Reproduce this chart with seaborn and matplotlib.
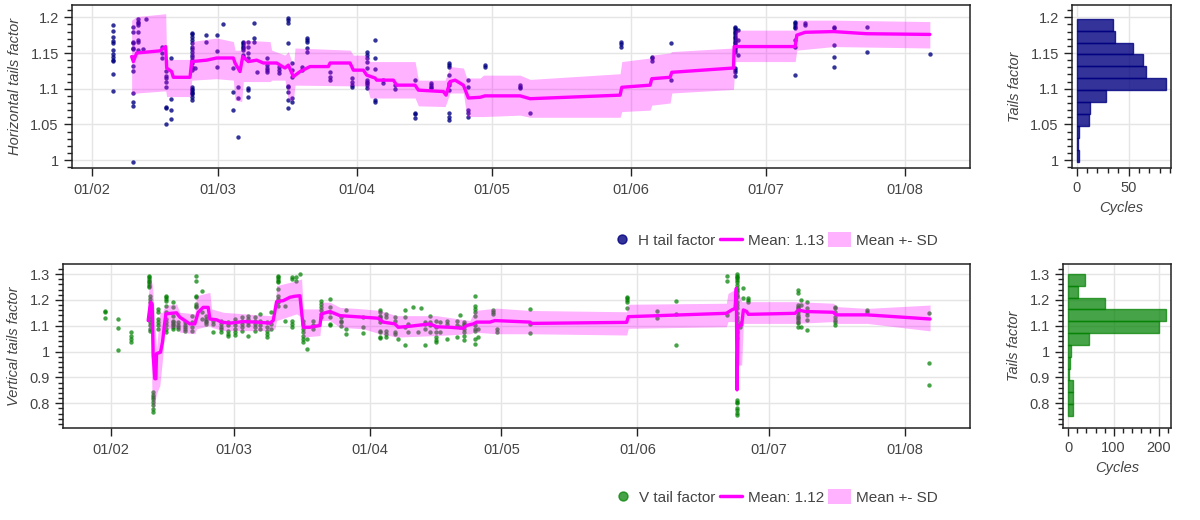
import numpy as np
import pandas as pd
import matplotlib
matplotlib.use("Agg")
import matplotlib.pyplot as plt
import matplotlib.dates as mdates
from matplotlib.ticker import MultipleLocator, FuncFormatter
from matplotlib.lines import Line2D
from matplotlib.patches import Patch
import seaborn as sns

# ---------------- data (days since 2023-02-01) ----------------
BASE = "2023-02-01"

h_cluster_days = [4.75, 9.1, 10.3, 11.43, 11.95, 15.5, 16.5, 17.6, 22.2, 22.94, 25.32, 27.77,
                  29.25, 31.48, 32.6, 33.7, 34.82, 36.0, 36.67, 38.9, 41.6, 43.7, 44.6, 46.7,
                  47.81, 53.0, 57.83, 61.2, 62.95, 64.88, 67.48, 72.0, 75.5, 79.5, 83.8, 87.4,
                  95.4, 97.55, 117.7, 124.6, 128.88, 143.2, 143.95, 156.5, 158.8, 165.2,
                  172.53, 186.56]
h_cluster_vals = [
    [1.189, 1.181, 1.172, 1.167, 1.164, 1.154, 1.148, 1.144, 1.140, 1.139, 1.121, 1.097],
    [1.187, 1.179, 1.166, 1.164, 1.157, 1.155, 1.144, 1.132, 1.125, 1.094, 1.082, 1.076, 0.998],
    [1.197, 1.194, 1.192, 1.189, 1.180, 1.168, 1.165, 1.154],
    [1.156],
    [1.198],
    [1.159, 1.150, 1.143],
    [1.125, 1.118, 1.115, 1.109, 1.102, 1.075, 1.073, 1.051],
    [1.143, 1.085, 1.070, 1.058],
    [1.178, 1.176, 1.172, 1.168, 1.164, 1.159, 1.155, 1.152, 1.147, 1.145, 1.140, 1.136,
     1.131, 1.126, 1.103, 1.100, 1.098, 1.096, 1.094, 1.093, 1.089, 1.084],
    [1.129],
    [1.175, 1.165],
    [1.175, 1.153, 1.131],
    [1.190],
    [1.129, 1.096, 1.070],
    [1.102, 1.087, 1.033],
    [1.166, 1.164, 1.161, 1.159, 1.157, 1.154, 1.147, 1.145],
    [1.166, 1.159, 1.150, 1.143, 1.101, 1.098, 1.089],
    [1.192, 1.171, 1.166],
    [1.124],
    [1.143, 1.133, 1.129, 1.126, 1.124],
    [1.131, 1.126, 1.122],
    [1.199, 1.196, 1.192, 1.164, 1.104, 1.102, 1.096, 1.084, 1.073],
    [1.136, 1.126, 1.117, 1.087, 1.082],
    [1.131, 1.126],
    [1.171, 1.168, 1.166, 1.157, 1.152],
    [1.124, 1.117, 1.112],
    [1.115, 1.110, 1.105, 1.103],
    [1.152, 1.147, 1.143, 1.138, 1.129, 1.112, 1.110, 1.108, 1.105, 1.101],
    [1.168, 1.143, 1.127, 1.084, 1.082],
    [1.112, 1.108],
    [1.105, 1.099],
    [1.112, 1.066, 1.064, 1.059],
    [1.108, 1.105, 1.103, 1.101],
    [1.133, 1.136, 1.131, 1.119, 1.108, 1.105, 1.098, 1.066, 1.061, 1.056],
    [1.112, 1.103, 1.070, 1.066, 1.061],
    [1.133, 1.131],
    [1.105, 1.103, 1.101],
    [1.066],
    [1.165, 1.162, 1.158],
    [1.145, 1.143, 1.139],
    [1.164, 1.112],
    [1.187, 1.185, 1.182, 1.180, 1.178, 1.175, 1.173, 1.171, 1.168, 1.166, 1.164, 1.161,
     1.159, 1.157, 1.154, 1.152, 1.129, 1.126, 1.124, 1.118],
    [1.182, 1.168, 1.147],
    [1.194, 1.192, 1.189, 1.187, 1.185, 1.168, 1.159, 1.119],
    [1.192, 1.189],
    [1.187, 1.185, 1.161, 1.145, 1.131],
    [1.187, 1.152],
    [1.148],
]

h_line_day = [8.83, 9.21, 9.95, 15.14, 16.41, 16.63, 17.74, 18.11, 21.83, 22.20, 25.54, 27.77,
              31.48, 31.85, 32.96, 33.56, 34.82, 36.67, 38.16, 41.13, 41.87, 42.98, 43.73, 44.84,
              46.33, 48.55, 52.64, 53.01, 57.46, 58.20, 60.43, 61.17, 63.03, 63.40, 67.11, 67.85,
              71.94, 72.68, 78.25, 78.84, 79.73, 80.85, 82.70, 83.81, 86.42, 87.53, 95.32, 97.55,
              117.59, 117.97, 124.28, 124.65, 128.73, 129.10, 142.84, 142.99, 156.57, 156.94,
              158.80, 165.11, 172.53, 186.56]
h_line_val = [1.145, 1.138, 1.150, 1.153, 1.159, 1.129, 1.124, 1.116, 1.116, 1.138, 1.140, 1.143,
              1.143, 1.136, 1.124, 1.145, 1.138, 1.140, 1.136, 1.136, 1.133, 1.129, 1.133, 1.117,
              1.124, 1.131, 1.131, 1.136, 1.136, 1.126, 1.126, 1.119, 1.115, 1.112, 1.112, 1.105,
              1.105, 1.098, 1.096, 1.091, 1.110, 1.112, 1.105, 1.087, 1.088, 1.090, 1.090, 1.086,
              1.091, 1.102, 1.105, 1.114, 1.116, 1.123, 1.129, 1.159, 1.159, 1.175, 1.179, 1.180,
              1.177, 1.176]

h_band_day = [8.83, 9.95, 16.41, 16.63, 21.83, 22.20, 27.77, 31.48, 31.85, 33.33, 33.70, 39.64,
              40.01, 42.98, 43.73, 44.84, 45.21, 57.46, 58.20, 61.17, 61.92, 71.94, 72.68, 78.62,
              79.73, 82.70, 83.44, 86.42, 87.16, 95.32, 97.55, 117.59, 117.97, 124.28, 124.65,
              128.73, 129.10, 142.84, 143.21, 156.57, 156.94, 165.11, 186.56]
h_band_lo = [1.091, 1.094, 1.097, 1.089, 1.089, 1.112, 1.114, 1.112, 1.084, 1.082, 1.110, 1.110,
             1.112, 1.112, 1.084, 1.084, 1.105, 1.104, 1.104, 1.104, 1.087, 1.087, 1.076, 1.075,
             1.094, 1.094, 1.061, 1.061, 1.061, 1.063, 1.060, 1.060, 1.068, 1.070, 1.077, 1.080,
             1.094, 1.099, 1.138, 1.138, 1.154, 1.159, 1.157]
h_band_hi = [1.196, 1.201, 1.205, 1.141, 1.141, 1.166, 1.171, 1.166, 1.154, 1.154, 1.168, 1.166,
             1.154, 1.147, 1.152, 1.131, 1.157, 1.154, 1.147, 1.147, 1.138, 1.138, 1.112, 1.112,
             1.131, 1.129, 1.115, 1.115, 1.119, 1.119, 1.113, 1.121, 1.138, 1.143, 1.147, 1.150,
             1.152, 1.157, 1.182, 1.182, 1.196, 1.196, 1.194]

h_hist_edges = [0.998, 1.0147, 1.0313, 1.048, 1.0647, 1.0813, 1.098, 1.1147, 1.1313, 1.148,
                1.1647, 1.1813, 1.198]
h_hist_counts = [2, 1, 2, 12, 13, 28, 86, 67, 64, 54, 37, 35]

v_cluster_days = [-1.37, 1.67, 4.71, 8.6, 9.0, 9.65, 10.8, 12.5, 14.2, 15.3, 16.9, 18.4, 19.5,
                  20.7, 21.8, 23.3, 25.2, 26.7, 28.3, 29.8, 31.3, 32.8, 33.97, 35.5, 36.6, 38.1,
                  39.7, 41.2, 42.3, 43.1, 43.8, 44.6, 46.1, 48.0, 49.9, 52.4, 53.6, 57.5, 61.3,
                  62.8, 64.7, 65.5, 67.0, 67.8, 68.9, 70.1, 70.8, 71.6, 72.7, 74.1, 75.0, 76.5,
                  78.8, 79.6, 80.5, 83.1, 83.7, 87.2, 87.9, 95.5, 117.55, 124.4, 128.8, 140.5,
                  142.6, 142.7, 143.4, 144.15, 145.3, 156.7, 157.3, 158.6, 165.0, 172.3, 186.55]
v_cluster_vals = [
    [1.157, 1.152, 1.129],
    [1.126, 1.093, 1.006],
    [1.075, 1.062, 1.049, 1.039],
    [1.294, 1.287, 1.281, 1.274, 1.268, 1.262, 1.255, 1.249],
    [1.216, 1.204, 1.191, 1.165, 1.152, 1.139, 1.126, 1.114, 1.101, 1.088, 1.081],
    [0.844, 0.831, 0.824, 0.818, 0.805, 0.792, 0.779, 0.767],
    [1.165, 1.152, 1.126, 1.114, 1.101, 1.088],
    [1.216, 1.210, 1.204, 1.197, 1.178, 1.152, 1.126, 1.114, 1.101, 1.088, 1.075],
    [1.191, 1.171, 1.139, 1.120, 1.114, 1.107, 1.101, 1.094, 1.088],
    [1.114, 1.101, 1.094, 1.088],
    [1.114, 1.101, 1.094, 1.088, 1.081],
    [1.137, 1.114, 1.094, 1.081],
    [1.294, 1.274, 1.216, 1.210, 1.184, 1.178, 1.171],
    [1.236, 1.152, 1.126],
    [1.139, 1.126, 1.120, 1.114, 1.107],
    [1.120, 1.107, 1.075],
    [1.120, 1.107, 1.094, 1.088, 1.075],
    [1.114, 1.101, 1.081, 1.069, 1.062],
    [1.126, 1.114, 1.101, 1.088, 1.075, 1.065],
    [1.133, 1.120, 1.107, 1.094, 1.081],
    [1.139, 1.126, 1.114, 1.101, 1.062],
    [1.133, 1.120, 1.107, 1.094, 1.081],
    [1.146, 1.120, 1.101, 1.088],
    [1.114, 1.094, 1.081, 1.069, 1.056],
    [1.152, 1.107, 1.088],
    [1.294, 1.287, 1.281, 1.274, 1.268, 1.242, 1.216, 1.204, 1.191, 1.178],
    [1.178, 1.120],
    [1.287, 1.281, 1.120, 1.107, 1.094],
    [1.287, 1.274],
    [1.300],
    [1.120, 1.107, 1.088, 1.075, 1.062, 1.049, 1.036],
    [1.049, 1.011],
    [1.120, 1.101, 1.088],
    [1.197, 1.184, 1.171, 1.159, 1.146, 1.133],
    [1.204, 1.171, 1.152, 1.133, 1.107, 1.101],
    [1.133, 1.120, 1.114, 1.098],
    [1.159, 1.088, 1.069],
    [1.133, 1.094, 1.072],
    [1.159, 1.152, 1.139, 1.133, 1.126, 1.114, 1.081, 1.075, 1.056, 1.052],
    [1.146, 1.133, 1.081, 1.069, 1.056],
    [1.133, 1.120, 1.075, 1.069],
    [1.049],
    [1.159, 1.133, 1.094, 1.024],
    [1.107, 1.075],
    [1.171],
    [1.075],
    [1.168],
    [1.114, 1.107, 1.088, 1.026],
    [1.139, 1.114, 1.101, 1.075],
    [1.120, 1.094, 1.075, 1.056, 1.043, 1.036],
    [1.114, 1.075],
    [1.120, 1.107, 1.049],
    [1.120, 1.101, 1.056],
    [1.142, 1.094],
    [1.114, 1.107, 1.101, 1.088, 1.075, 1.060, 1.043],
    [1.216, 1.178, 1.165, 1.152, 1.139, 1.101, 1.088, 1.081, 1.049, 1.030],
    [1.088, 1.056],
    [1.159, 1.152, 1.146],
    [1.088, 1.075],
    [1.163, 1.105, 1.071],
    [1.212, 1.206, 1.200, 1.193, 1.170],
    [1.157, 1.129],
    [1.196, 1.144, 1.026],
    [1.294, 1.274, 1.141],
    [1.299, 1.294, 1.288, 1.283, 1.277, 1.270, 1.257, 1.245, 1.238, 1.232, 1.219, 1.212,
     1.193, 1.180, 1.167, 1.148, 1.135, 1.122, 1.103, 1.077, 1.051],
    [0.813, 0.806, 0.800, 0.781, 0.774, 0.761, 0.755],
    [1.109, 1.096],
    [1.247, 1.206],
    [1.208, 1.200, 1.193],
    [1.238, 1.225, 1.180, 1.174, 1.167, 1.161, 1.154, 1.141, 1.135, 1.129, 1.122, 1.116,
     1.109, 1.096],
    [1.200, 1.180, 1.096],
    [1.193, 1.167, 1.154, 1.141, 1.122, 1.084],
    [1.174, 1.167, 1.154, 1.135, 1.122, 1.116, 1.103],
    [1.161, 1.154],
    [1.148, 0.955, 0.871],
]

v_line_day = [8.51, 9.04, 9.42, 9.65, 10.03, 10.26, 10.41, 11.32, 11.78, 12.16, 12.54, 14.97,
              15.73, 16.87, 18.01, 19.15, 19.91, 21.05, 22.19, 22.57, 24.09, 25.23, 27.13, 30.17,
              33.21, 36.25, 37.01, 37.77, 39.29, 40.81, 41.95, 43.09, 43.84, 45.36, 47.64, 48.02,
              49.92, 52.20, 57.52, 60.94, 62.08, 64.74, 65.50, 68.16, 72.72, 74.24, 77.28, 80.32,
              81.08, 82.60, 83.36, 86.40, 87.54, 95.52, 95.90, 117.55, 117.93, 140.27, 141.49,
              142.25, 142.55, 142.71, 142.93, 143.77, 144.15, 144.91, 145.29, 155.93, 156.69,
              158.21, 164.67, 165.27, 172.34, 186.70]
v_line_val = [1.120, 1.191, 1.184, 0.985, 0.895, 0.895, 0.992, 0.998, 1.037, 1.094, 1.146, 1.150,
              1.133, 1.120, 1.107, 1.107, 1.152, 1.171, 1.171, 1.126, 1.123, 1.114, 1.110, 1.116,
              1.114, 1.110, 1.120, 1.193, 1.197, 1.210, 1.214, 1.216, 1.094, 1.094, 1.101, 1.146,
              1.155, 1.139, 1.133, 1.129, 1.114, 1.107, 1.094, 1.098, 1.107, 1.096, 1.094, 1.090,
              1.101, 1.107, 1.114, 1.114, 1.120, 1.114, 1.109, 1.113, 1.135, 1.148, 1.161, 1.167,
              1.245, 0.852, 1.096, 1.103, 1.161, 1.155, 1.144, 1.148, 1.161, 1.155, 1.152, 1.142,
              1.142, 1.126]

v_band_day = [8.51, 9.04, 9.50, 10.41, 11.17, 11.78, 12.31, 14.97, 15.73, 19.15, 19.53, 22.57,
              22.95, 25.61, 36.25, 37.39, 37.77, 42.33, 43.47, 43.84, 47.64, 48.02, 49.92, 52.20,
              57.52, 61.32, 65.12, 74.24, 81.84, 82.98, 87.92, 95.52, 117.55, 117.93, 140.27,
              140.65, 142.63, 143.01, 143.77, 144.15, 155.93, 164.67, 165.43, 172.34, 186.70]
v_band_lo = [1.075, 1.088, 0.754, 0.837, 0.869, 0.972, 1.088, 1.094, 1.075, 1.069, 1.088, 1.101,
             1.094, 1.081, 1.081, 1.088, 1.120, 1.146, 1.133, 1.056, 1.062, 1.120, 1.120, 1.094,
             1.088, 1.069, 1.056, 1.062, 1.069, 1.075, 1.069, 1.069, 1.064, 1.090, 1.096, 1.116,
             1.116, 0.948, 0.948, 1.109, 1.109, 1.116, 1.109, 1.109, 1.080]
v_band_hi = [1.216, 1.287, 1.255, 1.011, 1.152, 1.152, 1.178, 1.184, 1.152, 1.146, 1.216, 1.229,
             1.165, 1.152, 1.139, 1.139, 1.255, 1.274, 1.281, 1.165, 1.165, 1.191, 1.191, 1.171,
             1.165, 1.159, 1.139, 1.139, 1.120, 1.159, 1.168, 1.159, 1.154, 1.183, 1.187, 1.225,
             1.244, 1.231, 1.193, 1.193, 1.193, 1.187, 1.174, 1.167, 1.180]

v_hist_edges = [0.751, 0.7968, 0.8425, 0.8883, 0.934, 0.9798, 1.0255, 1.0713, 1.117, 1.1628,
                1.2085, 1.2543, 1.300]
v_hist_counts = [11, 11, 11, 2, 4, 6, 46, 201, 215, 81, 22, 37]

h_labels = ["H tail factor", "Mean: 1.13", "Mean +- SD"]
v_labels = ["V tail factor", "Mean: 1.12", "Mean +- SD"]

# ---------------- styling ----------------
sns.set_style("white")
plt.rcParams["font.family"] = ["Liberation Sans", "DejaVu Sans"]
TXT = "#444444"
GRID = "#e5e5e5"


def to_dates(days):
    return pd.Timestamp(BASE) + pd.to_timedelta(np.asarray(days, dtype=float), unit="D")


def flatten(days, vals):
    d, v = [], []
    for day, vs in zip(days, vals):
        d += [day] * len(vs)
        v += list(vs)
    return pd.DataFrame({"date": to_dates(d), "val": v})


def style_axes(ax, xminor=True):
    for s in ax.spines.values():
        s.set_visible(True)
        s.set_color("#222222")
        s.set_linewidth(1.1)
    ax.grid(True, which="major", color=GRID, lw=1)
    ax.set_axisbelow(True)
    ax.tick_params(axis="both", which="both", left=True, bottom=True, top=False, right=False)
    ax.tick_params(axis="both", which="major", direction="out", length=6, width=1,
                   color="#222222", labelcolor=TXT, labelsize=10.5)
    ax.tick_params(axis="both", which="minor", direction="out", length=3.5, width=1,
                   color="#222222")
    if not xminor:
        ax.tick_params(axis="x", which="minor", bottom=False)


fmt_g = FuncFormatter(lambda v, p: "%g" % round(v, 4))

fig = plt.figure(figsize=(12, 5.2), dpi=100)

panels = [
    dict(main=[72 / 1200, 1 - 168 / 520, 898 / 1200, 163 / 520],
         hist=[1072 / 1200, 1 - 168 / 520, 99 / 1200, 163 / 520],
         cdays=h_cluster_days, cvals=h_cluster_vals, lday=h_line_day, lval=h_line_val,
         bday=h_band_day, blo=h_band_lo, bhi=h_band_hi, edges=h_hist_edges,
         counts=h_hist_counts, color="navy", alpha=0.8, ylim=(0.989, 1.2172),
         ymaj=0.05, ymin=0.01, xlim=(-4.45, 195.5), hx=(-4.5, 90.7), hmaj=50, hmin=10,
         ylabel="Horizontal tails factor", labels=h_labels, leg_y=1 - 240 / 520),
    dict(main=[63 / 1200, 1 - 428 / 520, 907 / 1200, 164 / 520],
         hist=[1063 / 1200, 1 - 428 / 520, 108 / 1200, 164 / 520],
         cdays=v_cluster_days, cvals=v_cluster_vals, lday=v_line_day, lval=v_line_val,
         bday=v_band_day, blo=v_band_lo, bhi=v_band_hi, edges=v_hist_edges,
         counts=v_hist_counts, color="green", alpha=0.72, ylim=(0.7045, 1.3387),
         ymaj=0.1, ymin=0.02, xlim=(-10.9, 195.8), hx=(-11.7, 226.5), hmaj=100, hmin=20,
         ylabel="Vertical tails factor", labels=v_labels, leg_y=1 - 497 / 520),
]

for p in panels:
    ax = fig.add_axes(p["main"])
    df = flatten(p["cdays"], p["cvals"])
    sns.scatterplot(data=df, x="date", y="val", ax=ax, color=p["color"], alpha=p["alpha"],
                    s=10, linewidth=0, zorder=2, legend=False)
    ax.fill_between(to_dates(p["bday"]), p["blo"], p["bhi"], color="magenta", alpha=0.3,
                    lw=0, zorder=3)
    sns.lineplot(x=to_dates(p["lday"]), y=p["lval"], ax=ax, color="magenta", lw=2.4,
                 estimator=None, sort=False, zorder=4)
    ax.set_xlim(pd.Timestamp(BASE) + pd.Timedelta(days=p["xlim"][0]),
                pd.Timestamp(BASE) + pd.Timedelta(days=p["xlim"][1]))
    ax.set_ylim(*p["ylim"])
    ax.xaxis.set_major_locator(mdates.MonthLocator())
    ax.xaxis.set_major_formatter(mdates.DateFormatter("%d/%m"))
    ax.yaxis.set_major_locator(MultipleLocator(p["ymaj"]))
    ax.yaxis.set_minor_locator(MultipleLocator(p["ymin"]))
    ax.yaxis.set_major_formatter(fmt_g)
    style_axes(ax, xminor=False)
    ax.tick_params(axis="x", pad=5)
    ax.set_xlabel("")
    ax.set_ylabel(p["ylabel"], fontsize=10.5, style="italic", color=TXT, labelpad=6)

    hax = fig.add_axes(p["hist"])
    edges = p["edges"]
    lows = edges[:-1]
    heights = [b - a for a, b in zip(edges[:-1], edges[1:])]
    hax.barh(lows, p["counts"], height=heights, align="edge", color=p["color"],
             alpha=p["alpha"], edgecolor=p["color"], linewidth=1, zorder=2)
    hax.set_ylim(*p["ylim"])
    hax.set_xlim(*p["hx"])
    hax.yaxis.set_major_locator(MultipleLocator(p["ymaj"]))
    hax.yaxis.set_minor_locator(MultipleLocator(p["ymin"]))
    hax.yaxis.set_major_formatter(fmt_g)
    hax.xaxis.set_major_locator(MultipleLocator(p["hmaj"]))
    hax.xaxis.set_minor_locator(MultipleLocator(p["hmin"]))
    style_axes(hax)
    hax.set_ylabel("Tails factor", fontsize=10.5, style="italic", color=TXT, labelpad=6)
    hax.set_xlabel("Cycles", fontsize=10.5, style="italic", color=TXT, labelpad=4)

    handles = [Line2D([], [], marker="o", ls="", color=p["color"], alpha=p["alpha"],
                      markersize=6.5),
               Line2D([], [], color="magenta", lw=2.5),
               Patch(facecolor="magenta", alpha=0.3, edgecolor="none")]
    fig.legend(handles, p["labels"], loc="center right", bbox_to_anchor=(0.793, p["leg_y"]),
               ncol=3, frameon=False, fontsize=11, handlelength=1.5, handleheight=1.1,
               handletextpad=0.35, columnspacing=0.25, labelcolor=TXT)

fig.savefig("out.png", dpi=100)
